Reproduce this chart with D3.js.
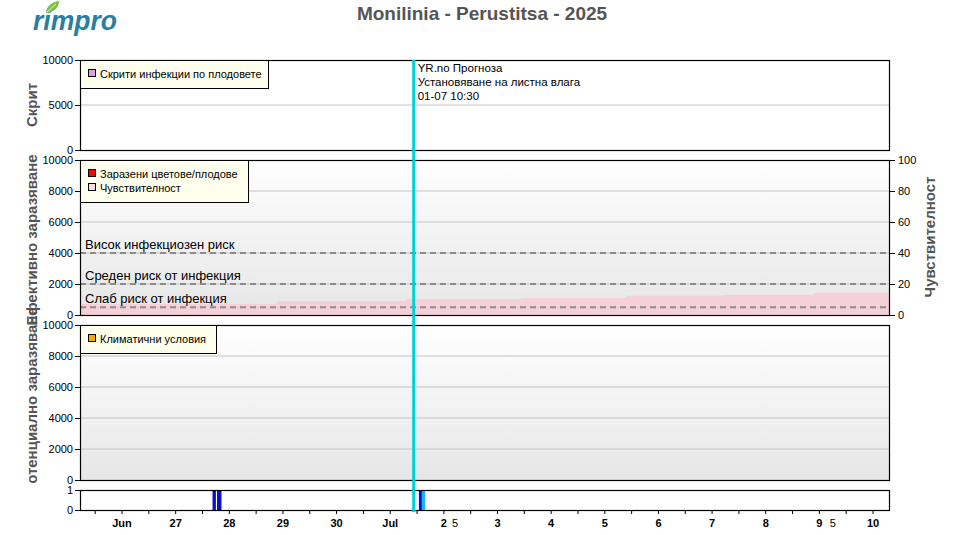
<!DOCTYPE html>
<html><head><meta charset="utf-8">
<script src="https://cdn.jsdelivr.net/npm/d3@7"></script>
<style>
body{margin:0;background:#fff;}
svg{display:block;font-family:"Liberation Sans",Arial,sans-serif;}
</style></head>
<body><svg id="c" width="960" height="535"></svg>
<script>
// ---------- data ----------
const title = "Monilinia - Perustitsa - 2025";
const xDomain = ["2025-06-25T05:12:00Z", "2025-07-10T07:36:00Z"];
const dayTicks = ["2025-06-26","2025-06-27","2025-06-28","2025-06-29","2025-06-30","2025-07-01","2025-07-02","2025-07-03","2025-07-04","2025-07-05","2025-07-06","2025-07-07","2025-07-08","2025-07-09","2025-07-10"];
const dayLabels = ["Jun","27","28","29","30","Jul","2","3","4","5","6","7","8","9","10"];
const extraTickTimes = ["2025-07-02T05:00:00Z","2025-07-09T06:00:00Z"];
const extraTickLabels = ["5","5"];

const hiddenTicks = [0, 5000, 10000];
const infectTicks = [0, 2000, 4000, 6000, 8000, 10000];
const sensTicks = [0, 20, 40, 60, 80, 100];
const wetTicks = [0, 1];

const sensTimes = ["2025-06-25T05:12:00Z","2025-06-28T20:30:00Z","2025-06-28T22:00:00Z","2025-07-01T06:00:00Z","2025-07-01T07:30:00Z","2025-07-03T10:00:00Z","2025-07-03T11:30:00Z","2025-07-05T09:00:00Z","2025-07-05T10:30:00Z","2025-07-07T04:00:00Z","2025-07-07T05:30:00Z","2025-07-08T21:00:00Z","2025-07-08T22:30:00Z","2025-07-10T07:36:00Z"];
const sensValues = [7.1, 7.1, 9.0, 9.0, 10.3, 10.3, 11.0, 11.0, 12.5, 12.5, 13.1, 13.1, 14.3, 14.3];

const riskLevels = [4000, 2000, 500];
const riskLabels = ["Висок инфекциозен риск", "Среден риск от инфекция", "Слаб риск от инфекция"];

const wetStarts = ["2025-06-27T16:30:00Z","2025-06-27T18:30:00Z","2025-07-01T12:50:00Z","2025-07-01T14:10:00Z"];
const wetEnds   = ["2025-06-27T18:00:00Z","2025-06-27T20:30:00Z","2025-07-01T14:10:00Z","2025-07-01T15:35:00Z"];
const wetKinds  = ["obs","obs","obs","fc"];

const cursorTime = "2025-07-01T10:30:00Z";
const cursorLines = ["YR.no Прогноза", "Установяване на листна влага", "01-07 10:30"];

const legend1 = [["Скрити инфекции по плодовете", "#dda0dd"]];
const legend2 = [["Заразени цветове/плодове", "#ff0000"], ["Чувствителност", "#f8dce0"]];
const legend3 = [["Климатични условия", "#ffa500"]];

// ---------- drawing ----------
const svg = d3.select("#c");
const L = 80, R = 890;
const x = d3.scaleUtc().domain(xDomain.map(d => new Date(d))).range([L, R]);
const P = d => new Date(d);

const defs = svg.append("defs");
const g = defs.append("linearGradient").attr("id","bg").attr("x1",0).attr("y1",0).attr("x2",0).attr("y2",1);
g.append("stop").attr("offset","0%").attr("stop-color","#ffffff");
g.append("stop").attr("offset","100%").attr("stop-color","#e6e6e6");
defs.append("clipPath").attr("id","clip3").append("rect").attr("x",0).attr("y",290).attr("width",80).attr("height",193);

// title
svg.append("text").attr("x", 482).attr("y", 20).attr("text-anchor","middle")
  .attr("font-size", 19).attr("font-weight","bold").attr("fill","#555").text(title);

// logo
const logo = svg.append("g");
logo.append("text").attr("x", 33).attr("y", 30).attr("font-size", 27).attr("font-weight","bold")
  .attr("font-style","italic").attr("fill","#2a7ea3").attr("textLength", 84).attr("lengthAdjust","spacingAndGlyphs").text("rimpro");
logo.append("path").attr("d","M46,13 C46,6 52,2 59,1 C59,8 54,12 46,13 Z").attr("fill","#7cc142");
logo.append("path").attr("d","M47,12 L56,4").attr("stroke","#fff").attr("stroke-width",0.8);

function panel(top, bottom, grad) {
  svg.append("rect").attr("x", L).attr("y", top).attr("width", R - L).attr("height", bottom - top)
    .attr("fill", grad ? "url(#bg)" : "#fff");
}
function grid(y, ticks) {
  svg.append("g").selectAll("line").data(ticks).join("line")
    .attr("x1", L).attr("x2", R).attr("y1", d => y(d)).attr("y2", d => y(d))
    .attr("stroke", "#c4c4c4").attr("stroke-width", 1);
}
function leftAxis(y, ticks) {
  const a = svg.append("g").attr("transform", `translate(${L},0)`)
    .call(d3.axisLeft(y).tickValues(ticks).tickSize(5).tickPadding(2).tickFormat(d3.format("d")));
  a.select(".domain").remove();
  a.selectAll("text").attr("font-size", 11).attr("fill", "#000").attr("font-family", "Liberation Sans, Arial");
  a.selectAll("line").attr("stroke", "#000");
}
function frame(top, bottom) {
  svg.append("rect").attr("x", L + 0.5).attr("y", top + 0.5).attr("width", R - L - 1).attr("height", bottom - top)
    .attr("fill", "none").attr("stroke", "#000").attr("stroke-width", 1.2);
}
function legend(x0, y0, w, items) {
  const h = 14 * items.length + 14;
  svg.append("rect").attr("x", x0 + 0.5).attr("y", y0 + 0.5).attr("width", w).attr("height", h)
    .attr("fill", "#ffffee").attr("stroke", "#000");
  items.forEach((it, i) => {
    const cy = y0 + 14 + i * 14;
    svg.append("rect").attr("x", x0 + 8.5).attr("y", cy - 4.5).attr("width", 7).attr("height", 7)
      .attr("fill", it[1]).attr("stroke", "#000");
    svg.append("text").attr("x", x0 + 20).attr("y", cy + 3.5).attr("font-size", 11).attr("fill", "#000").text(it[0]);
  });
}
function yTitle(xp, yc, txt, rot, clip) {
  const t = svg.append("text").attr("transform", `translate(${xp},${yc}) rotate(${rot})`).attr("text-anchor","middle")
    .attr("font-size", 15).attr("font-weight","bold").attr("fill","#555").text(txt);
  if (clip) {
    const gg = svg.append("g").attr("clip-path", `url(#${clip})`);
    gg.node().appendChild(t.node());
  }
}

// Panel 1
const y1 = d3.scaleLinear().domain([0, 10000]).range([150, 60]);
panel(60, 150, false);
grid(y1, [5000]);
leftAxis(y1, hiddenTicks);
yTitle(37, 105, "Скрит", -90);

// Panel 2
const y2 = d3.scaleLinear().domain([0, 10000]).range([315, 160]);
const y2r = d3.scaleLinear().domain([0, 100]).range([315, 160]);
panel(160, 315, true);
grid(y2, infectTicks.slice(1, 5));
const sens = sensTimes.map((t, i) => ({t: P(t), v: sensValues[i]}));
svg.append("path").datum(sens)
  .attr("d", d3.area().x(d => x(d.t)).y0(y2r(0)).y1(d => y2r(d.v)))
  .attr("fill", "#f5d0d8");
riskLevels.forEach((lv, i) => {
  svg.append("line").attr("x1", L).attr("x2", R).attr("y1", y2(lv)).attr("y2", y2(lv))
    .attr("stroke", "#8c8c8c").attr("stroke-width", 2).attr("stroke-dasharray", "6,4");
  svg.append("text").attr("x", 85).attr("y", y2(lv) - 4).attr("font-size", 13).attr("fill", "#000").text(riskLabels[i]);
});
leftAxis(y2, infectTicks);
{
  const a = svg.append("g").attr("transform", `translate(${R},0)`)
    .call(d3.axisRight(y2r).tickValues(sensTicks).tickSize(5).tickPadding(3));
  a.select(".domain").remove();
  a.selectAll("text").attr("font-size", 11).attr("fill", "#000");
  a.selectAll("line").attr("stroke", "#000");
}
yTitle(37, 240, "Ефективно заразяване", -90);
yTitle(935, 237, "Чувствителност", -90);

// Panel 3
const y3 = d3.scaleLinear().domain([0, 10000]).range([480, 325]);
panel(325, 480, true);
grid(y3, infectTicks.slice(1, 5));
leftAxis(y3, infectTicks);
yTitle(37, 401, "Потенциално заразяване", -90, "clip3");

// Panel 4
const y4 = d3.scaleLinear().domain([0, 1]).range([510, 490]);
panel(490, 510, false);
const wet = wetStarts.map((s, i) => ({s: P(s), e: P(wetEnds[i]), k: wetKinds[i]}));
svg.append("g").selectAll("rect").data(wet).join("rect")
  .attr("x", d => x(d.s)).attr("width", d => x(d.e) - x(d.s))
  .attr("y", y4(1)).attr("height", y4(0) - y4(1))
  .attr("fill", d => d.k === "obs" ? "#0a10c8" : "#12b8f0");
leftAxis(y4, wetTicks);

// frames
frame(60, 150); frame(160, 315); frame(325, 480); frame(490, 510);

// legends
legend(80, 60, 188, legend1);
legend(80, 160, 168, legend2);
legend(80, 325, 136, legend3);

// x axis
{
  const halfDays = d3.utcHour.every(12).range(x.domain()[0], x.domain()[1]);
  svg.append("g").selectAll("line").data(halfDays).join("line")
    .attr("x1", d => x(d)).attr("x2", d => x(d)).attr("y1", 510).attr("y2", 514)
    .attr("stroke", "#000");
  svg.append("g").selectAll("text").data(dayTicks).join("text")
    .attr("x", d => x(P(d + "T00:00:00Z"))).attr("y", 527).attr("text-anchor", "middle")
    .attr("font-size", 11).attr("font-weight", "bold").attr("fill", "#000")
    .text((d, i) => dayLabels[i]);
  svg.append("g").selectAll("text").data(extraTickTimes).join("text")
    .attr("x", d => x(P(d))).attr("y", 527).attr("text-anchor", "middle")
    .attr("font-size", 11).attr("fill", "#000")
    .text((d, i) => extraTickLabels[i]);
}

// cursor
const cx = x(P(cursorTime));
svg.append("line").attr("x1", cx).attr("x2", cx).attr("y1", 60).attr("y2", 512)
  .attr("stroke", "#00d0d8").attr("stroke-width", 3);
cursorLines.forEach((t, i) => {
  svg.append("text").attr("x", cx + 4).attr("y", 72 + i * 14).attr("font-size", 11.5).attr("fill", "#000").text(t);
});
</script></body></html>
